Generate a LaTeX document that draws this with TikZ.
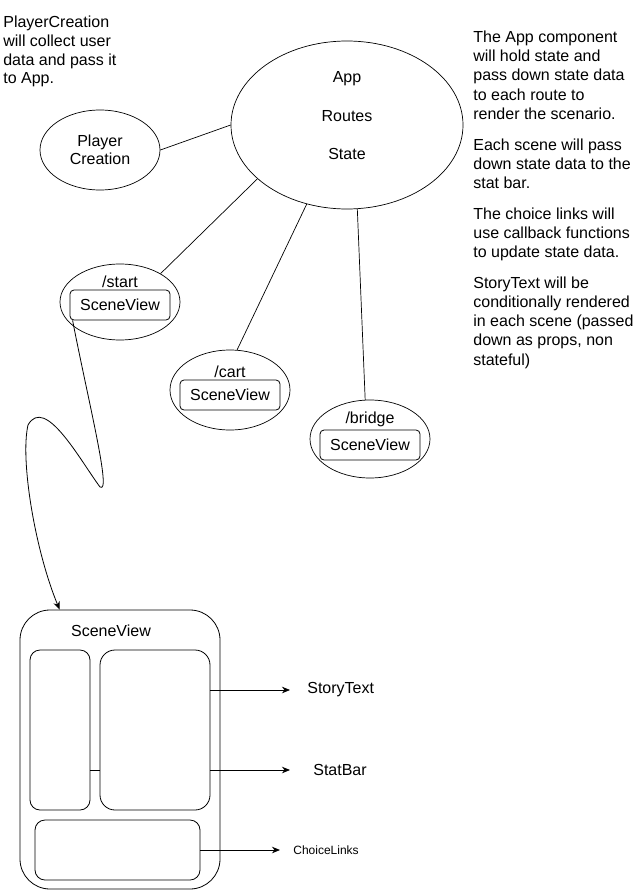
\documentclass[tikz,border=0pt]{standalone}
\usepackage{fontspec}
\setmainfont{Liberation Sans}
\usetikzlibrary{shapes.geometric,arrows.meta,positioning}

\tikzset{
	bubble/.style={draw, ellipse, inner sep=0pt, line width=0.7pt},
	viewbox/.style={draw, rounded corners=4pt, minimum width=100pt, minimum height=30pt, inner sep=0pt, line width=0.8pt},
	panel/.style={draw, rounded corners=#1, inner sep=0pt, line width=0.8pt},
	routelbl/.style={inner sep=1.5pt},
	note/.style={align=left, inner sep=0pt, anchor=north west},
	arr/.style={line width=0.8pt, -{Stealth[length=8pt,width=6.5pt,inset=2.5pt]}},
}

\begin{document}
\begin{tikzpicture}[x=1pt, y=-1pt, font=\fontsize{16}{19}\selectfont, line width=0.7pt]
	\useasboundingbox (0,0) rectangle (641,891);

	%notes
	\node[note, font=\fontsize{16}{18.6}\selectfont] (pcnote) at (3,16) {PlayerCreation\\will collect user\\data and pass it\\to App.};
	\node[note, font=\fontsize{16}{19.2}\selectfont] (appnote) at (473,30.6) {The App component\\will hold state and\\pass down state data\\to each route to\\render the scenario.\\[11.5pt]Each scene will pass\\down state data to the\\stat bar.\\[11.5pt]The choice links will\\use callback functions\\to update state data.\\[11.5pt]StoryText will be\\conditionally rendered\\in each scene (passed\\down as props, non\\stateful)};

	%App and PlayerCreation
	\node[bubble, minimum width=232pt, minimum height=168pt] (app) at (347,125) {};
	\node[align=center, inner sep=0pt, anchor=north, font=\fontsize{16}{38.5}\selectfont] (apptext) at (347,71.5) {App\\Routes\\State};
	\node[bubble, minimum width=120pt, minimum height=80pt, align=center, font=\fontsize{16}{18.5}\selectfont] (pc) at (100,150) {Player\\Creation};
	\draw (pc.east) -- (app.west);

	%routes
	\node[bubble, minimum width=120pt, minimum height=76pt] (start) at (120,302) {};
	\node[viewbox] (startview) at (120,305) {SceneView};
	\node[routelbl, above=0.5pt of startview] (startlbl) {/start};

	\node[bubble, minimum width=120pt, minimum height=80pt] (cart) at (230,390) {};
	\node[viewbox] (cartview) at (230,395) {SceneView};
	\node[routelbl, above=0.5pt of cartview] (cartlbl) {/cart};

	\node[bubble, minimum width=120pt, minimum height=78pt] (bridge) at (370,439) {};
	\node[viewbox] (bridgeview) at (370,445) {SceneView};
	\node[routelbl, above=0.5pt of bridgeview] (bridgelbl) {/bridge};

	\draw (app.211) -- (start.35);
	\draw (app.243) -- (cart.80);
	\draw (app.277) -- (bridge.97);

	%the SceneView layout
	\node[panel=30pt, minimum width=200pt, minimum height=279pt] (view) at (120,749.5) {};
	\node[anchor=base, inner sep=0pt] (viewtitle) at (111,636) {SceneView};
	\node[panel=10pt, minimum width=60pt, minimum height=160pt] (barbox) at (60,730) {};
	\node[panel=15pt, minimum width=110pt, minimum height=160pt] (storybox) at (155,730) {};
	\node[panel=10pt, minimum width=165pt, minimum height=60pt] (choicebox) at (117.5,850) {};

	\draw[->, arr] ([xshift=3pt]startview.south west) .. controls (88,400) and (112,495) .. (100,487)
		.. controls (80,460) and (45,395) .. (28,425)
		.. controls (20,460) and (35,550) .. ([xshift=40pt]view.north west);

	%children
	\node[anchor=west, inner sep=0pt] (storytext) at (307,690) {StoryText};
	\node[anchor=west, inner sep=0pt] (statbar) at (313,770) {StatBar};
	\node[anchor=west, inner sep=0pt, font=\fontsize{12}{14}\selectfont] (choicelinks) at (293,850) {ChoiceLinks};

	\draw[arr] (storybox.east |- storytext.west) -- ([xshift=-17pt]storytext.west);
	\draw[arr] (storybox.east |- statbar.west) -- ([xshift=-23pt]statbar.west);
	\draw[arr] (choicebox.east) -- ([xshift=-13pt]choicelinks.west);
	\draw[line width=0.8pt] (barbox.east |- statbar.west) -- (storybox.west |- statbar.west);

\end{tikzpicture}
\end{document}
